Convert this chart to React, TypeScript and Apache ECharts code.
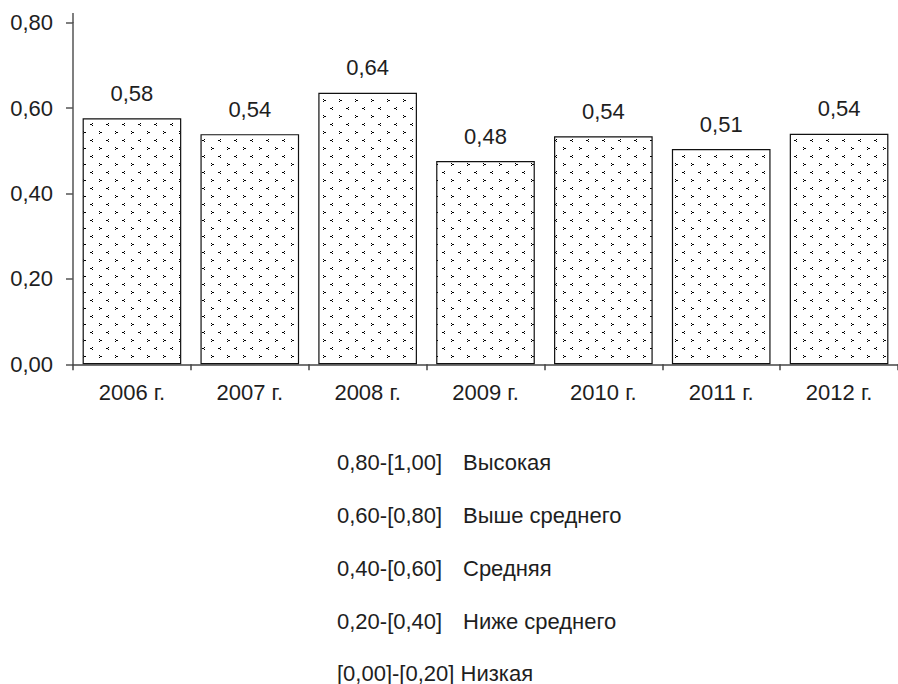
import React, { useEffect, useRef } from "react";
import * as echarts from "echarts";

const years = ["2006 г.", "2007 г.", "2008 г.", "2009 г.", "2010 г.", "2011 г.", "2012 г."];
const values = [0.576, 0.539, 0.636, 0.476, 0.534, 0.504, 0.54];
const valueLabels = ["0,58", "0,54", "0,64", "0,48", "0,54", "0,51", "0,54"];
const legendRanges = ["0,80-[1,00]", "0,60-[0,80]", "0,40-[0,60]", "0,20-[0,40]"];
const legendNames = ["Высокая", "Выше среднего", "Средняя", "Ниже среднего"];
const legendLast = "[0,00]-[0,20] Низкая";

const FONT = "'Liberation Sans', Arial, sans-serif";
const TXT = "#1e1e1e";

function makePattern(): string {
  const c = document.createElement("canvas");
  c.width = 16;
  c.height = 16;
  const ctx = c.getContext("2d")!;
  ctx.fillStyle = "#ffffff";
  ctx.fillRect(0, 0, 16, 16);
  ctx.fillStyle = "#000000";
  const px: [number, number][] = [
    [3, 3], [4, 4], [5, 4], [3, 5],
    [12, 11], [11, 12], [10, 12], [12, 13],
  ];
  px.forEach(([x, y]) => ctx.fillRect(x, y, 1, 1));
  return c.toDataURL();
}

export default function App() {
  const ref = useRef<HTMLDivElement>(null);
  useEffect(() => {
    if (!ref.current) return;
    const chart = echarts.init(ref.current, null, { renderer: "svg" });
    const pattern = makePattern();
    const graphics: any[] = [
      {
        type: "line",
        shape: { x1: 73, y1: 13, x2: 73, y2: 23 },
        style: { stroke: "#555", lineWidth: 1.5 },
      },
    ];
    const ys = [462, 515, 568, 621, 673];
    legendRanges.forEach((r, i) => {
      graphics.push({
        type: "text",
        x: 337,
        y: ys[i],
        style: { text: r, font: `22px ${FONT}`, fill: TXT, verticalAlign: "middle" },
      });
      graphics.push({
        type: "text",
        x: 463,
        y: ys[i],
        style: { text: legendNames[i], font: `22px ${FONT}`, fill: TXT, verticalAlign: "middle" },
      });
    });
    graphics.push({
      type: "text",
      x: 337,
      y: ys[4],
      style: { text: legendLast, font: `22px ${FONT}`, fill: TXT, verticalAlign: "middle" },
    });

    chart.setOption({
      animation: false,
      backgroundColor: "#ffffff",
      grid: { left: 73, top: 22.7, width: 833, height: 341.6, containLabel: false },
      xAxis: {
        type: "category",
        data: years,
        axisLine: { lineStyle: { color: "#444", width: 1.5 } },
        axisTick: { show: true, length: 6, lineStyle: { color: "#444", width: 1.5 } },
        axisLabel: { color: TXT, fontSize: 22, fontFamily: FONT, margin: 17 },
      },
      yAxis: {
        type: "value",
        min: 0,
        max: 0.8,
        interval: 0.2,
        splitLine: { show: false },
        axisLine: { show: true, lineStyle: { color: "#555", width: 1.5 } },
        axisTick: { show: true, length: 7, lineStyle: { color: "#555", width: 1.5 } },
        axisLabel: {
          color: TXT,
          fontSize: 22,
          fontFamily: FONT,
          margin: 20,
          formatter: (v: number) => v.toFixed(2).replace(".", ","),
        },
      },
      series: [
        {
          type: "bar",
          data: values,
          barCategoryGap: "16.3%",
          itemStyle: {
            color: { image: pattern, repeat: "repeat", imageWidth: 16, imageHeight: 16 } as any,
            borderColor: "#111",
            borderWidth: 1.2,
          },
          label: {
            show: true,
            position: "top",
            distance: 14,
            color: TXT,
            fontSize: 22,
            fontFamily: FONT,
            formatter: (p: any) => valueLabels[p.dataIndex],
          },
        },
      ],
      graphic: graphics,
    });
    return () => chart.dispose();
  }, []);
  return (
    <div
      ref={ref}
      style={{ position: "fixed", left: 0, top: 0, width: 898, height: 684, background: "#fff" }}
    />
  );
}
